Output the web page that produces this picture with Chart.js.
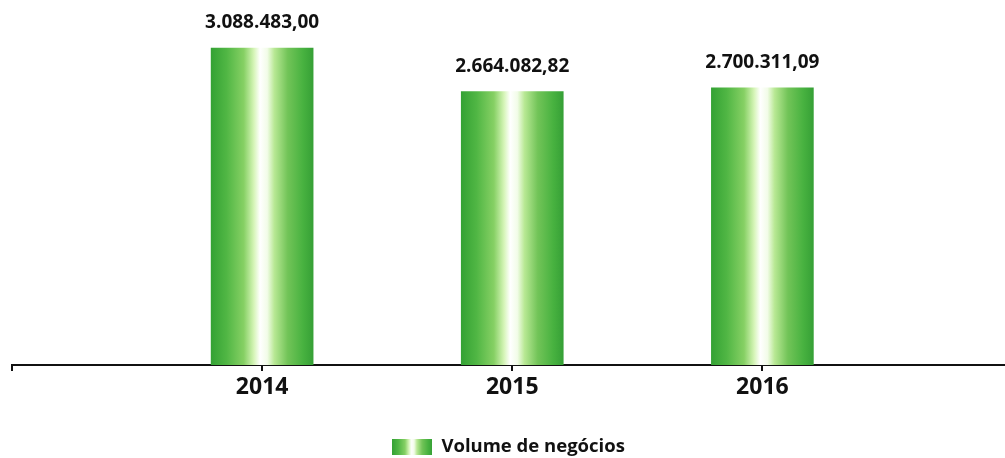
<!DOCTYPE html>
<html>
<head>
<meta charset="utf-8">
<script src="https://cdn.jsdelivr.net/npm/chart.js@4.4.1/dist/chart.umd.min.js"></script>
<style>
  html, body { margin: 0; padding: 0; background: #fff; }
  #wrap { width: 1005px; height: 458px; position: relative; }
</style>
</head>
<body>
<div id="wrap"><canvas id="chart"></canvas></div>
<script>
// data
const years = ["2014", "2015", "2016"];
const volume = [3088483.00, 2664082.82, 2700311.09];
const seriesName = "Volume de negócios";

const FONT = "'Open Sans', sans-serif";

// horizontal gradient stops used for the bars and the legend icon
const stops = [
    [0, "#34a234"], [0.15, "#50b644"], [0.32, "#86d064"], [0.42, "#d6f5b8"],
    [0.48, "#ffffff"], [0.55, "#f2fce8"], [0.62, "#b8e894"], [0.75, "#72c458"],
    [0.9, "#48b240"], [1, "#36a036"]
];

const makeGradient = (ctx, x0, x1) => {
    const g = ctx.createLinearGradient(x0, 0, x1, 0);
    stops.forEach(s => g.addColorStop(s[0], s[1]));
    return g;
};

// legend icon
const icon = document.createElement("canvas");
icon.width = 40;
icon.height = 16;
const ictx = icon.getContext("2d");
ictx.fillStyle = makeGradient(ictx, 0, 40);
ictx.fillRect(0, 0, 40, 16);

const formatPt = (v) => {
    const parts = v.toFixed(2).split(".");
    const whole = parts[0].replace(/\B(?=(\d{3})+(?!\d))/g, ".");
    return whole + "," + parts[1];
};

const barFill = (ctx) => {
    const chart = ctx.chart;
    const xs = chart.scales && chart.scales.x;
    if (!xs || !ctx.parsed) return "#4cb644";
    const cx = xs.getPixelForValue(ctx.parsed.x);
    if (!isFinite(cx)) return "#4cb644";
    return makeGradient(chart.ctx, cx - 51, cx + 51);
};

const valueLabels = {
    id: "valueLabels",
    afterDatasetsDraw(chart) {
        const ctx = chart.ctx;
        const meta = chart.getDatasetMeta(0);
        ctx.save();
        ctx.font = "bold 19px " + FONT;
        ctx.fillStyle = "#111";
        ctx.textAlign = "center";
        ctx.textBaseline = "middle";
        meta.data.forEach((bar, i) => {
            ctx.fillText(formatPt(volume[i]), bar.x, bar.y - 25);
        });
        ctx.restore();
    }
};

const legendShift = {
    id: "legendShift",
    beforeInit(chart) {
        const fit = chart.legend.fit;
        chart.legend.fit = function () {
            fit.bind(chart.legend)();
            this.height -= 8;
        };
    }
};

new Chart(document.getElementById("chart"), {
    type: "bar",
    data: {
        datasets: [{
            label: seriesName,
            data: years.map((y, i) => ({ x: i, y: volume[i] })),
            backgroundColor: barFill,
            borderWidth: 0,
            barThickness: 102,
            pointStyle: icon
        }]
    },
    options: {
        responsive: true,
        maintainAspectRatio: false,
        animation: false,
        layout: { padding: { left: 12, right: 0, top: 0, bottom: 0 } },
        scales: {
            x: {
                type: "linear",
                offset: false,
                min: -1,
                max: 2.97,
                grid: { offset: false, drawOnChartArea: false, drawTicks: true, tickLength: 6, color: "#111", lineWidth: 2 },
                border: { display: true, color: "#111", width: 2 },
                ticks: {
                    stepSize: 1,
                    includeBounds: false,
                    autoSkip: false,
                    maxRotation: 0,
                    padding: 3,
                    color: "#111",
                    font: { family: FONT, size: 23, weight: "bold" },
                    callback: (v) => (v >= 0 && v < years.length && Number.isInteger(v)) ? years[v] : ""
                }
            },
            y: {
                display: false,
                min: 0,
                max: 3556000
            }
        },
        plugins: {
            legend: {
                position: "bottom",
                labels: {
                    usePointStyle: true,
                    pointStyleWidth: 40,
                    padding: 33,
                    color: "#111",
                    font: { family: FONT, size: 18.5, weight: "bold" }
                }
            },
            tooltip: { enabled: false }
        }
    },
    plugins: [valueLabels, legendShift]
});
</script>
</body>
</html>
